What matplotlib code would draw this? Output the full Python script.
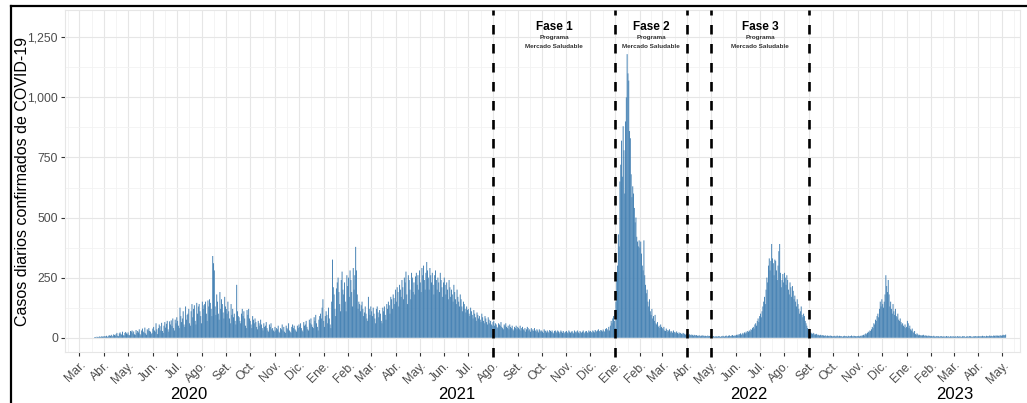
import pandas as pd
import matplotlib
matplotlib.use('Agg')
import matplotlib.pyplot as plt
import matplotlib.dates as mdates
import matplotlib.transforms as mtransforms
from matplotlib.lines import Line2D
from matplotlib.ticker import FuncFormatter

plt.rcParams['font.family'] = ['Liberation Sans', 'DejaVu Sans']

# daily confirmed cases (one list per year, month by month)
start_2020 = '2020-03-20'
cases_2020 = [
    2, 3, 1, 4, 3, 2, 5, 4, 3, 6, 4, 5,  # mar (from 20th)
    5, 7, 4, 8, 3, 6, 9, 10, 7, 12, 5, 8, 14, 11, 9, 15, 20, 8, 6, 18, 22, 16, 12, 25, 10, 9, 20, 24, 18, 14,
    22, 12, 10, 28, 25, 30, 18, 26, 14, 12, 32, 20, 28, 22, 35, 15, 10, 30, 38, 25, 20, 42, 18, 12, 35, 30, 40, 28, 25, 15, 20,
    38, 45, 30, 25, 60, 35, 15, 40, 55, 48, 30, 62, 28, 20, 50, 65, 42, 58, 70, 35, 25, 68, 55, 72, 48, 80, 40, 30, 75, 60,
    85, 70, 50, 40, 125, 90, 65, 80, 110, 55, 45, 130, 75, 95, 100, 120, 60, 50, 110, 140, 85, 120, 135, 70, 55, 145, 100, 130, 140, 110, 90,
    60, 150, 120, 135, 140, 150, 100, 70, 155, 130, 160, 145, 120, 90, 340, 310, 280, 130, 95, 180, 150, 100, 75, 190, 120, 160, 140, 105, 80, 170, 130,
    120, 100, 150, 110, 80, 60, 140, 95, 120, 85, 100, 70, 55, 220, 110, 90, 85, 70, 60, 100, 120, 90, 110, 80, 50, 40, 115, 95, 120, 80,
    70, 55, 40, 90, 75, 60, 80, 65, 45, 35, 70, 60, 50, 75, 55, 40, 30, 60, 45, 50, 65, 40, 30, 25, 55, 45, 60, 35, 40, 30, 25,
    45, 30, 40, 35, 50, 25, 20, 40, 35, 55, 30, 45, 25, 20, 50, 40, 35, 60, 30, 25, 20, 45, 55, 40, 50, 35, 30, 25, 50, 40,
    55, 45, 60, 40, 30, 25, 65, 50, 55, 70, 45, 35, 30, 75, 60, 80, 55, 45, 40, 85, 70, 95, 60, 45, 30, 75, 90, 100, 80, 125, 160,
]
cases_2021 = [
    70, 45, 90, 110, 95, 60, 125, 80, 55, 40, 150, 325, 210, 180, 120, 90, 205, 230, 250, 190, 140, 110, 240, 275, 200, 180, 230, 150, 110, 260, 215,
    250, 170, 280, 240, 190, 130, 290, 200, 260, 378, 280, 180, 120, 150, 140, 110, 135, 150, 120, 90, 105, 130, 100, 80, 70, 170, 120, 95,
    130, 110, 90, 125, 100, 80, 60, 120, 130, 105, 85, 115, 100, 70, 60, 125, 110, 130, 95, 75, 140, 120, 150, 135, 100, 170, 160, 120, 180, 165, 140,
    200, 150, 210, 190, 130, 220, 200, 170, 240, 210, 160, 250, 230, 275, 180, 140, 260, 240, 200, 160, 270, 250, 190, 230, 180, 255, 270, 220, 260, 200,
    280, 230, 190, 290, 260, 300, 240, 200, 270, 315, 280, 250, 200, 290, 260, 230, 270, 220, 180, 260, 280, 240, 200, 250, 230, 190, 270, 240, 210, 170, 230,
    250, 220, 180, 230, 200, 160, 240, 210, 170, 200, 180, 150, 220, 190, 160, 140, 200, 170, 150, 130, 180, 160, 130, 110, 150, 140, 120, 105, 130, 115,
    120, 100, 90, 125, 110, 95, 80, 115, 100, 85, 70, 105, 95, 80, 90, 75, 65, 100, 85, 70, 60, 90, 80, 65, 55, 85, 75, 60, 70, 55, 50,
    65, 70, 50, 60, 55, 45, 40, 60, 55, 50, 65, 45, 40, 35, 55, 50, 60, 45, 40, 50, 35, 55, 45, 40, 50, 35, 30, 45, 40, 50, 35,
    45, 40, 35, 50, 30, 40, 45, 35, 30, 40, 25, 35, 45, 40, 30, 35, 25, 40, 30, 35, 28, 40, 30, 25, 35, 30, 22, 35, 30, 25,
    30, 25, 20, 35, 30, 28, 22, 30, 25, 20, 32, 28, 24, 30, 22, 18, 28, 30, 25, 20, 30, 26, 18, 24, 30, 25, 20, 28, 22, 18, 25,
    28, 22, 18, 30, 25, 20, 24, 28, 22, 18, 30, 25, 20, 26, 30, 22, 18, 28, 24, 20, 25, 30, 22, 18, 26, 28, 22, 20, 30, 25,
    28, 24, 20, 30, 26, 22, 32, 28, 24, 30, 35, 28, 25, 32, 30, 26, 34, 28, 24, 36, 40, 35, 30, 45, 30, 50, 70, 60, 80, 90, 70,
]
cases_2022 = [
    40, 150, 270, 300, 430, 380, 650, 720, 820, 670, 880, 780, 600, 900, 1000, 1180, 1100, 1070, 860, 830, 680, 585, 630, 600, 540, 480, 500, 420, 400, 380, 405,
    375, 400, 350, 300, 280, 405, 260, 220, 185, 200, 150, 130, 160, 110, 95, 120, 80, 90, 70, 95, 60, 55, 65, 45, 50, 40, 55, 45,
    40, 35, 45, 30, 28, 38, 32, 25, 30, 35, 22, 28, 25, 20, 30, 24, 18, 22, 26, 20, 15, 22, 18, 20, 16, 14, 20, 18, 15, 12, 16,
    15, 12, 10, 14, 12, 9, 13, 11, 8, 12, 10, 9, 11, 8, 7, 10, 9, 6, 8, 10, 7, 9, 6, 8, 7, 5, 9, 6, 7, 8,
    5, 6, 4, 7, 5, 3, 6, 5, 4, 6, 7, 5, 3, 6, 5, 8, 6, 4, 7, 9, 6, 5, 8, 10, 7, 6, 9, 11, 8, 7, 10,
    8, 12, 10, 14, 9, 15, 18, 12, 16, 20, 14, 22, 18, 25, 20, 28, 24, 30, 26, 35, 32, 40, 45, 38, 55, 60, 50, 70, 80, 65,
    90, 100, 85, 110, 130, 150, 170, 140, 200, 250, 230, 300, 330, 280, 320, 390, 330, 310, 260, 325, 320, 280, 240, 300, 360, 390, 270, 210, 240, 265, 230,
    270, 250, 220, 260, 240, 200, 180, 230, 210, 170, 215, 195, 160, 175, 150, 130, 160, 140, 120, 100, 110, 130, 95, 85, 100, 90, 70, 60, 50, 40, 35,
    25, 20, 22, 18, 15, 20, 17, 12, 14, 16, 10, 13, 11, 9, 12, 10, 8, 11, 9, 7, 10, 8, 6, 9, 7, 8, 6, 9, 7, 5,
    7, 6, 8, 5, 6, 9, 7, 5, 8, 6, 7, 5, 4, 6, 8, 5, 7, 6, 4, 8, 6, 5, 7, 9, 6, 5, 8, 7, 6, 5, 7,
    6, 8, 5, 7, 9, 6, 10, 12, 9, 15, 18, 14, 20, 25, 22, 30, 28, 35, 45, 40, 60, 55, 75, 70, 90, 100, 85, 120, 150, 130,
    160, 140, 125, 150, 180, 260, 215, 190, 240, 180, 130, 150, 120, 100, 140, 110, 95, 120, 90, 85, 100, 75, 70, 80, 65, 55, 60, 50, 45, 55, 40,
]
cases_2023 = [
    45, 70, 60, 40, 50, 35, 30, 38, 25, 20, 28, 15, 12, 18, 14, 10, 12, 9, 11, 8, 10, 12, 9, 7, 10, 8, 6, 9, 7, 8, 6,
    7, 5, 6, 8, 5, 4, 6, 7, 5, 6, 4, 5, 7, 6, 4, 5, 6, 3, 5, 7, 4, 6, 5, 3, 6, 5, 4, 6,
    5, 4, 6, 3, 5, 7, 4, 5, 6, 3, 4, 6, 5, 7, 4, 3, 5, 6, 4, 5, 7, 6, 4, 5, 3, 6, 5, 7, 4, 6, 5,
    6, 5, 7, 4, 6, 8, 5, 7, 6, 4, 8, 6, 7, 5, 9, 6, 8, 7, 5, 9, 8, 6, 10, 7, 9, 8, 6, 10, 9, 8,
    10, 12, 9, 11, 13,
]

month_names = ['Ene.', 'Feb.', 'Mar.', 'Abr.', 'May.', 'Jun.', 'Jul.', 'Ago.', 'Set.', 'Oct.', 'Nov.', 'Dic.']
phase_lines = ['2021-08-01', '2022-01-01', '2022-04-01', '2022-05-01', '2022-09-01']
phases = [('Fase 1', '2021-08-01', '2022-01-01'),
          ('Fase 2', '2022-01-01', '2022-04-01'),
          ('Fase 3', '2022-05-01', '2022-09-01')]
years = [2020, 2021, 2022, 2023]

# build the daily series
parts = []
for start, vals in [(start_2020, cases_2020), ('2021-01-01', cases_2021),
                    ('2022-01-01', cases_2022), ('2023-01-01', cases_2023)]:
    parts.append(pd.Series(vals, index=pd.date_range(start, periods=len(vals), freq='D')))
cases = pd.concat(parts)

fig = plt.figure(figsize=(10.27, 4.03), dpi=100)
ax = fig.add_axes([65 / 1027, 51 / 403, 955 / 1027, 342 / 403])

x = mdates.date2num(cases.index.to_pydatetime())
bars = ax.bar(x, cases.values, width=1.2, color='#4682B4', linewidth=0, zorder=2)
for b in bars:
    b.set_snap(False)

# axes limits
ax.set_xlim(mdates.datestr2num('2020-02-12'), mdates.datestr2num('2023-05-23'))
ax.set_ylim(-59.5, 1363.7)

# month ticks
months = pd.date_range('2020-03-01', '2023-05-01', freq='MS')
mnum = mdates.date2num(months.to_pydatetime())
ax.set_xticks(mnum)
ax.set_xticklabels([month_names[m.month - 1] for m in months], rotation=45,
                   ha='right', va='top', rotation_mode='anchor')
mids = list((mnum[:-1] + mnum[1:]) / 2)
mids = [mnum[0] - 14.5] + mids + [mnum[-1] + 15]
ax.set_xticks(mids, minor=True)

ax.set_yticks([0, 250, 500, 750, 1000, 1250])
ax.set_yticks([125, 375, 625, 875, 1125], minor=True)
ax.yaxis.set_major_formatter(FuncFormatter(lambda v, p: f'{int(v):,}'))

ax.tick_params(which='major', length=3, width=0.8, color='#333333',
               labelsize=8.8, labelcolor='#4D4D4D', pad=2)
ax.tick_params(which='minor', length=0)

ax.grid(which='major', color='#E6E6E6', lw=0.8, zorder=0)
ax.grid(which='minor', color='#F2F2F2', lw=0.6, zorder=0)
ax.set_axisbelow(True)
for s in ax.spines.values():
    s.set_color('#E6E6E6')
    s.set_linewidth(0.8)

# year labels under the month labels
trans = mtransforms.blended_transform_factory(ax.transData, ax.transAxes)
for yr in years:
    ym = [m for m in mnum if mdates.num2date(m).year == yr]
    ax.text((ym[0] + ym[-1]) / 2, -0.123, str(yr), transform=trans,
            ha='center', va='center', fontsize=12, color='black')

# program phases
for d in phase_lines:
    ax.axvline(mdates.datestr2num(d), ymin=-0.015, ymax=1, color='black', lw=1.9,
               linestyle=(0, (3.6, 3.6)), clip_on=False, zorder=3)
for name, a, b in phases:
    xc = (mdates.datestr2num(a) + mdates.datestr2num(b)) / 2
    ax.text(xc, 1295, name, ha='center', va='center', fontsize=8.5, fontweight='bold')
    ax.text(xc, 1250, 'Programa', ha='center', va='center', fontsize=4.6,
            fontweight='bold', color='#333333')
    ax.text(xc, 1210, 'Mercado Saludable', ha='center', va='center', fontsize=4.6,
            fontweight='bold', color='#333333')

fig.text(22.5 / 1027, 0.55, 'Casos diarios confirmados de COVID-19', rotation=90,
         ha='center', va='center', fontsize=11.5)

# frame around the figure
fig.add_artist(Line2D([10.5 / 1027, 10.5 / 1027], [-0.1, 1 - 6 / 403], color='black',
                      lw=1.6, transform=fig.transFigure))
fig.add_artist(Line2D([10.5 / 1027, 1.1], [1 - 6 / 403, 1 - 6 / 403], color='black',
                      lw=1.6, transform=fig.transFigure))

fig.savefig('out.png', dpi=100)
